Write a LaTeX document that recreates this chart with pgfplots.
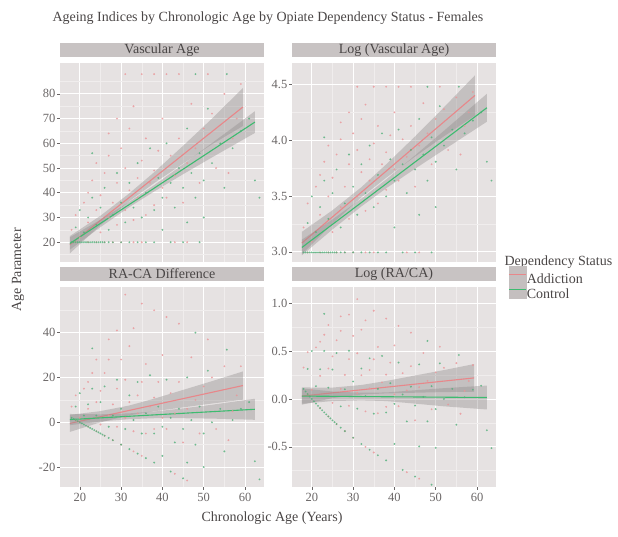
\documentclass[border=0pt]{standalone}
\usepackage{pgfplots}
\pgfplotsset{compat=1.18}
\usepackage{pgfplotstable}
\usepackage{fontspec}
\setmainfont{Liberation Serif}

\definecolor{panelbg}{HTML}{E6E2E2}
\definecolor{stripbg}{HTML}{C8C3C3}
\definecolor{keybg}{HTML}{C4BFBF}
\definecolor{minorgrid}{HTML}{F0EDED}
\definecolor{addpt}{HTML}{EA9497}
\definecolor{conpt}{HTML}{4FAF78}
\definecolor{addcol}{HTML}{E8878A}
\definecolor{concol}{HTML}{3DBB70}
\definecolor{bandgrey}{HTML}{8F8B8B}
\definecolor{tickgrey}{HTML}{6A6666}
\definecolor{titlegrey}{HTML}{4A4646}

% chronologic age vs vascular age
\pgfplotstableread{
ca va
19 20
22 20
24 20
26 20
28 20
30 20
33 20
35 20
43 20
46 20
31 88
35 88
38 88
41 88
44 88
51 88
18 25
19 31
20 22
21 36
22 28
22 40
23 45
24 33
24 52
25 24
25 39
26 48
27 30
27 55
27 64
28 36
29 27
29 44
29 70
30 58
31 33
31 50
32 41
32 66
33 29
33 75
34 46
34 38
35 53
36 31
36 62
37 44
38 49
38 35
39 57
40 42
40 70
41 38
42 55
43 47
44 62
45 36
46 52
47 76
48 58
49 44
50 66
52 72
53 50
55 80
56 48
57 62
58 70
59 84
}\addictiondata

\pgfplotstableread{
ca va
18 20
18.5 20
19 20
19.5 20
20 20
20.5 20
21 20
21.5 20
22 20
22.5 20
23 20
23.5 20
24 20
24.5 20
25 20
25.5 20
26 20
27 20
28 20
30 20
32 20
34 20
36 20
38 20
42 20
45 20
49 20
48 88
55.6 88
19 26
20 33
21 24
22 30
23 38
23 56
24 27
25 34
26 42
27 25
28 31
29 48
30 36
31 28
32 44
33 34
34 52
35 30
36 40
37 58
38 33
39 46
40 38
40 25
41 60
42 44
43 34
44 50
45 42
46 66
46 28
47 48
48 38
49 56
50 45
50 30
51 74
52 52
54 60
55 42
57 58
59 65
61 70
62.4 45
63.5 38
}\controldata

\pgfplotsset{
  facet/.style={
    scale only axis, width=204pt,
    xmin=15.2, xmax=64.6,
    axis background/.style={fill=panelbg},
    axis line style={draw=none},
    grid=both,
    major grid style={white, line width=0.9pt},
    minor grid style={minorgrid, line width=0.5pt},
    xtick={20,30,40,50,60}, minor xtick={25,35,45,55},
    tick align=outside, xtick pos=bottom, ytick pos=left,
    major tick length=3pt, minor tick length=0pt,
    tick style={tickgrey, line width=0.6pt},
    tick label style={font=\fontsize{12.5}{14}\selectfont, text=tickgrey},
    yticklabel style={inner sep=1.5pt},
    /pgf/number format/assume math mode=true,
    title style={at={(0.5,1)}, anchor=south, fill=stripbg, minimum width=204pt,
      minimum height=14pt, inner sep=0pt, font=\fontsize{14}{15}\selectfont, text=titlegrey},
  },
  toprow/.style={height=199pt, xticklabels={}, xtick style={draw=none}},
  botrow/.style={height=200pt},
  pts/.style={only marks, mark=*, mark size=1.05pt, color=#1, forget plot,
    mark options={fill=#1, fill opacity=0.8, draw opacity=0}},
  band/.style={fill=bandgrey, fill opacity=0.38, draw=none, forget plot},
  fit/.style={#1, line width=1.1pt, forget plot},
}

\begin{document}
\begin{tikzpicture}[x=1pt,y=1pt]
\useasboundingbox (0,0) rectangle (618,537);

\node[anchor=west, text=titlegrey, font=\fontsize{14}{16}\selectfont] at (49,519) {Ageing Indices by Chronologic Age by Opiate Dependency Status - Females};
\node[rotate=90, text=titlegrey, font=\fontsize{14}{16}\selectfont] at (18,267) {Age Parameter};
\node[text=titlegrey, font=\fontsize{14}{16}\selectfont] at (272,19) {Chronologic Age (Years)};
\node[anchor=west, text=titlegrey, font=\fontsize{14}{16}\selectfont] at (501,275) {Dependency Status};

% Vascular Age
\begin{axis}[facet, toprow, at={(60pt,275pt)}, anchor=south west,
  title={Vascular Age}, ymin=12, ymax=92.5,
  ytick={20,30,...,80}, minor ytick={15,25,...,85}]
\addplot[pts=addpt] table[x=ca, y=va] {\addictiondata};
\addplot[pts=conpt] table[x=ca, y=va] {\controldata};
\addplot[band] coordinates {(17.6,22.5) (25,30.7) (32,39.8) (38,48.3) (45,59.0) (52,70.0) (59.5,82.4)
  (59.5,67.0) (52,59.6) (45,51.8) (38,43.9) (32,36.6) (25,26.9) (17.6,15.5)} -- cycle;
\addplot[fit=addcol] coordinates {(17.6,19.0) (59.5,74.7)};
\addplot[band] coordinates {(17.6,22.0) (25,29.1) (32,36.4) (38,43.1) (45,51.5) (52,60.1) (62.4,73.0)
  (62.4,64.2) (52,54.3) (45,47.5) (38,40.5) (32,34.2) (25,26.1) (17.6,17.0)} -- cycle;
\addplot[fit=concol] coordinates {(17.6,19.5) (62.4,68.6)};
\end{axis}

% Log (Vascular Age)
\begin{axis}[facet, toprow, at={(292pt,275pt)}, anchor=south west,
  title={Log (Vascular Age)}, ymin=2.91, ymax=4.69,
  ytick={3,3.5,4,4.5}, minor ytick={3.25,3.75,4.25},
  yticklabel style={/pgf/number format/.cd, fixed, fixed zerofill, precision=1}]
\addplot[pts=addpt] table[x=ca, y expr=ln(\thisrow{va})] {\addictiondata};
\addplot[pts=conpt] table[x=ca, y expr=ln(\thisrow{va})] {\controldata};
\addplot[band] coordinates {(17.6,3.18) (25,3.373) (32,3.579) (38,3.783) (45,4.033) (52,4.294) (59.5,4.58)
  (59.5,4.22) (52,4.034) (45,3.853) (38,3.663) (32,3.489) (25,3.253) (17.6,2.98)} -- cycle;
\addplot[fit=addcol] coordinates {(17.6,3.08) (59.5,4.40)};
\addplot[band] coordinates {(17.6,3.11) (25,3.291) (32,3.477) (38,3.649) (45,3.864) (52,4.084) (62.4,4.415)
  (62.4,4.165) (52,3.914) (45,3.744) (38,3.569) (32,3.407) (25,3.201) (17.6,2.97)} -- cycle;
\addplot[fit=concol] coordinates {(17.6,3.04) (62.4,4.29)};
\end{axis}

% RA-CA Difference
\begin{axis}[facet, botrow, at={(60pt,50pt)}, anchor=south west,
  title={RA-CA Difference}, ymin=-28.9, ymax=60.4,
  ytick={-20,0,20,40}, minor ytick={-10,10,30,50}]
\addplot[pts=addpt] table[x=ca, y expr=\thisrow{va}-\thisrow{ca}] {\addictiondata};
\addplot[pts=conpt] table[x=ca, y expr=\thisrow{va}-\thisrow{ca}] {\controldata};
\addplot[band] coordinates {(17.6,3.3) (25,4.98) (32,7.5) (38,10.52) (45,14.44) (52,18.36) (59.5,22.7)
  (59.5,10.1) (52,8.36) (45,6.64) (38,4.92) (32,3.1) (25,-0.02) (17.6,-4.3)} -- cycle;
\addplot[fit=addcol] coordinates {(17.6,-0.5) (59.5,16.4)};
\addplot[band] coordinates {(17.6,3.7) (25,3.56) (32,3.98) (38,4.8) (45,6.21) (52,7.83) (62.4,10.5)
  (62.4,1.1) (52,1.63) (45,1.81) (38,1.8) (32,1.38) (25,0.36) (17.6,-1.3)} -- cycle;
\addplot[fit=concol] coordinates {(17.6,1.2) (62.4,5.8)};
\end{axis}

% Log (RA/CA)
\begin{axis}[facet, botrow, at={(292pt,50pt)}, anchor=south west,
  title={Log (RA/CA)}, ymin=-0.92, ymax=1.17,
  ytick={-0.5,0,0.5,1}, minor ytick={-0.75,-0.25,0.25,0.75},
  yticklabel style={/pgf/number format/.cd, fixed, fixed zerofill, precision=1},
  legend style={at={(1.059,1.105)}, anchor=north west, draw=none, fill=none,
    inner sep=0pt, row sep=-4.5pt, nodes={inner sep=0.5pt},
    text=titlegrey, font=\fontsize{14}{15}\selectfont},
  legend cell align=left]
\addplot[pts=addpt] table[x=ca, y expr=ln(\thisrow{va}/\thisrow{ca})] {\addictiondata};
\addplot[pts=conpt] table[x=ca, y expr=ln(\thisrow{va}/\thisrow{ca})] {\controldata};
\addplot[band] coordinates {(17.6,0.12) (25,0.119) (32,0.146) (38,0.188) (45,0.245) (52,0.302) (59.3,0.365)
  (59.3,0.075) (52,0.072) (45,0.065) (38,0.058) (32,0.046) (25,0.009) (17.6,-0.06)} -- cycle;
\addplot[fit=addcol] coordinates {(17.6,0.03) (59.3,0.22)};
\addplot[band] coordinates {(17.6,0.11) (25,0.078) (32,0.065) (38,0.068) (45,0.091) (52,0.113) (62.4,0.14)
  (62.4,-0.11) (52,-0.077) (45,-0.049) (38,-0.022) (32,-0.015) (25,-0.022) (17.6,-0.05)} -- cycle;
\addplot[fit=concol] coordinates {(17.6,0.03) (62.4,0.015)};
\addlegendimage{legend image code/.code={
  \fill[keybg] (0pt,-3.5pt) rectangle (17pt,13pt);
  \draw[addcol, line width=1.1pt] (0pt,4.75pt) -- (17pt,4.75pt);}}
\addlegendentry{Addiction}
\addlegendimage{legend image code/.code={
  \fill[keybg] (0pt,-3.5pt) rectangle (17pt,13pt);
  \draw[concol, line width=1.1pt] (0pt,4.75pt) -- (17pt,4.75pt);}}
\addlegendentry{Control}
\end{axis}
\end{tikzpicture}
\end{document}
